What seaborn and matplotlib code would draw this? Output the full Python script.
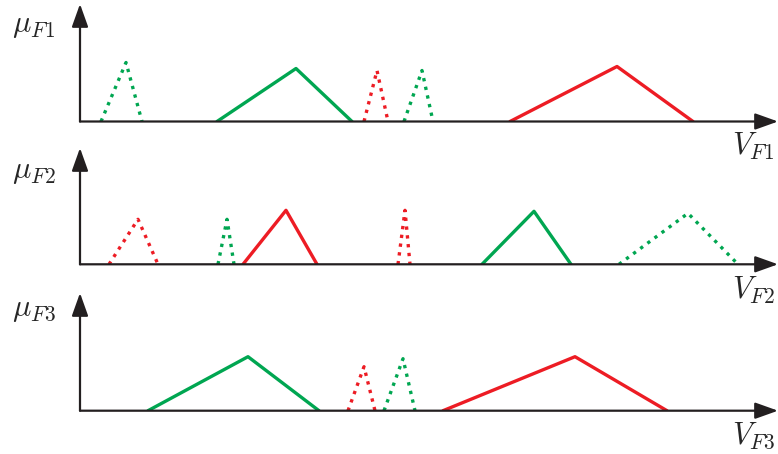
import numpy as np
import pandas as pd
import matplotlib
matplotlib.use('Agg')
import matplotlib.pyplot as plt
import seaborn as sns

# triangular membership functions: (left, peak, right, height), colour, style
# row 1 : V_F1
f1_left   = [21, 137, 284, 324, 430]
f1_peak   = [46, 216, 297, 342, 537]
f1_right  = [62, 272, 308, 353, 613]
f1_height = [59, 53, 51, 51, 55]
f1_color  = ['g', 'g', 'r', 'g', 'r']
f1_style  = [':', '-', ':', ':', '-']

# row 2 : V_F2
f2_left   = [29, 138, 163, 318, 402, 539]
f2_peak   = [58, 147, 206, 325, 454, 608]
f2_right  = [78, 154, 237, 330, 491, 658]
f2_height = [45, 45, 54, 54, 53, 51]
f2_color  = ['r', 'g', 'r', 'r', 'g', 'g']
f2_style  = [':', ':', '-', ':', '-', ':']

# row 3 : V_F3
f3_left   = [68, 268, 304, 363]
f3_peak   = [168, 284, 323, 495]
f3_right  = [239, 295, 335, 587]
f3_height = [54, 44, 52, 54]
f3_color  = ['g', 'r', 'g', 'r']
f3_style  = ['-', ':', ':', '-']

ylabels = [r'$\mu_{F1}$', r'$\mu_{F2}$', r'$\mu_{F3}$']
xlabels = [r'$V_{F1}$', r'$V_{F2}$', r'$V_{F3}$']

sns.set_style('white')
plt.rcParams['mathtext.fontset'] = 'cm'

colors = {'g': '#00a651', 'r': '#ed1c24'}

W, H = 778, 454
fig = plt.figure(figsize=(W/100, H/100), dpi=100)

# axes placement (pixel values: baseline y, top y, label y's)
rows = [
    (121.5, 4, f1_left, f1_peak, f1_right, f1_height, f1_color, f1_style, 26, 146),
    (264.3, 148, f2_left, f2_peak, f2_right, f2_height, f2_color, f2_style, 172, 290),
    (410.7, 293, f3_left, f3_peak, f3_right, f3_height, f3_color, f3_style, 310, 436),
]

x0 = 80
for i, (base, top, L, P, R, Hh, C, S, ylab_y, xlab_y) in enumerate(rows):
    ax = fig.add_axes([x0/W, 1 - base/H, (W - x0)/W, (base - top)/H])
    ax.set_xlim(0, W - x0)
    ax.set_ylim(0, base - top)
    for l, p, r, h, c, s in zip(L, P, R, Hh, C, S):
        df = pd.DataFrame({'x': [l, p, r], 'y': [0, h, 0]})
        sns.lineplot(data=df, x='x', y='y', ax=ax, color=colors[c],
                     linestyle=s, lw=2.4, estimator=None, sort=False)
    for sp in ax.spines.values():
        sp.set_visible(False)
    ax.set_xticks([])
    ax.set_yticks([])
    ax.set_xlabel('')
    ax.set_ylabel('')
    ax.patch.set_alpha(0)
    # axis arrows
    arr = dict(arrowstyle='-|>,head_length=0.7,head_width=0.25', color='#231f20',
               lw=1.6, shrinkA=0, shrinkB=0, mutation_scale=20)
    ax.annotate('', xy=(1, 0), xytext=(0, 0), xycoords='axes fraction',
                arrowprops=arr, annotation_clip=False)
    ax.annotate('', xy=(0, 1), xytext=(0, 0), xycoords='axes fraction',
                arrowprops=arr, annotation_clip=False)

    fig.text(12/W, 1 - ylab_y/H, ylabels[i], fontsize=22, ha='left', va='center')
    fig.text(732/W, 1 - xlab_y/H, xlabels[i], fontsize=22, ha='left', va='center')

fig.savefig('out.png', dpi=100)
